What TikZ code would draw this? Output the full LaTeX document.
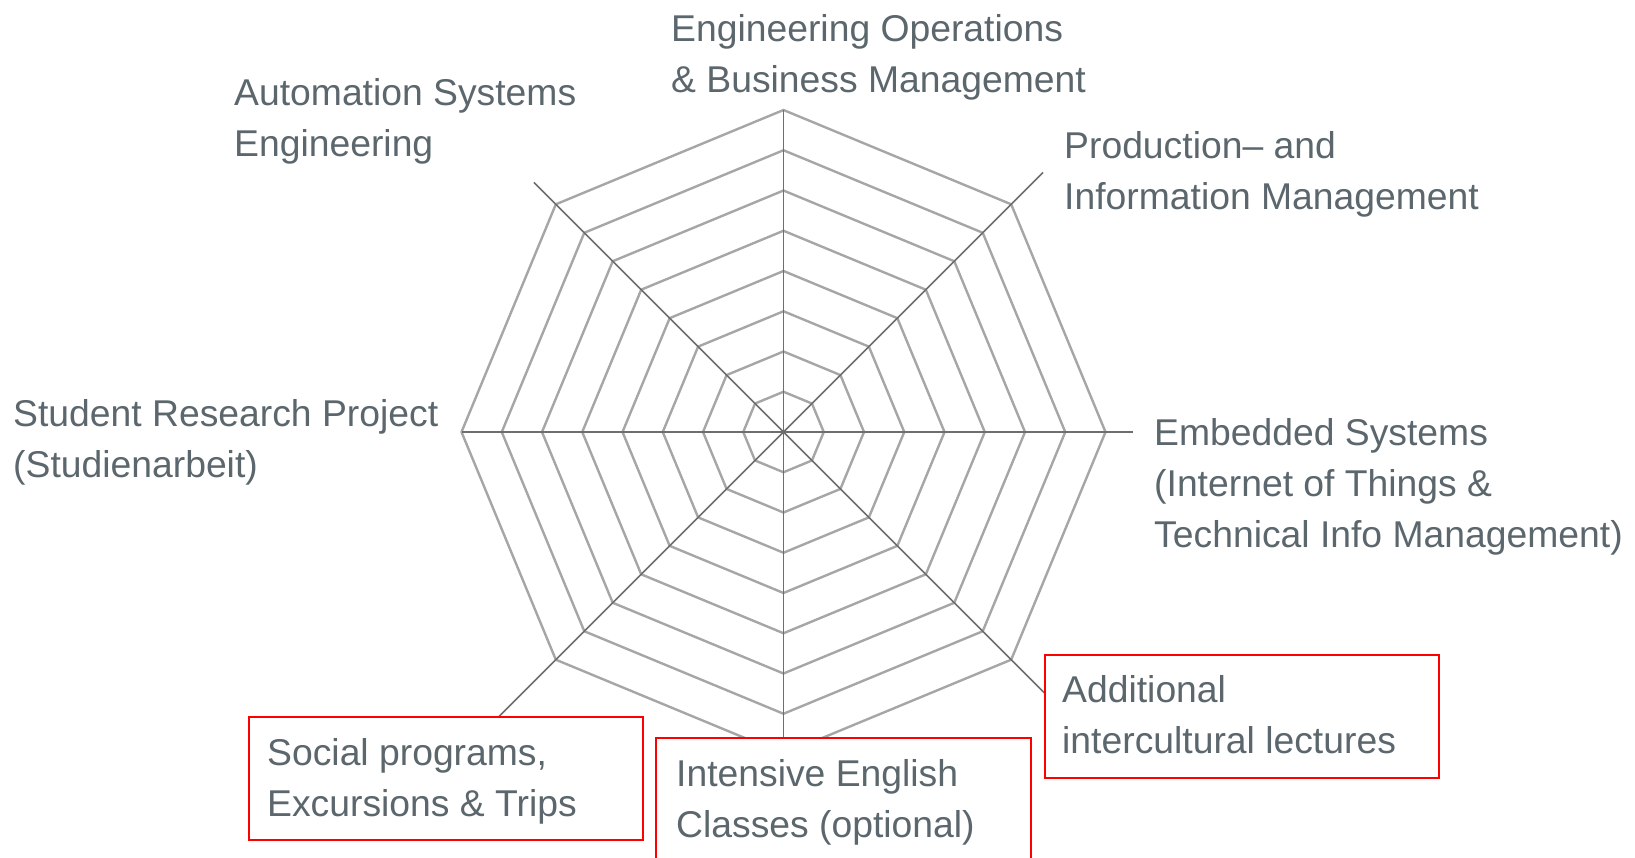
\documentclass[tikz,border=0pt]{standalone}
\usepackage{fontspec}
\setmainfont{Liberation Sans}
\usetikzlibrary{calc}
\definecolor{txtgray}{HTML}{5B676D}
\definecolor{ringgray}{HTML}{A6A6A6}
\definecolor{spokegray}{HTML}{6E6E6E}
\tikzstyle{ring}=[draw=ringgray, line width=2.4pt]
\tikzstyle{spoke}=[draw=spokegray, line width=1.6pt]
\tikzstyle{lbl}=[text=txtgray, font=\fontsize{37.3}{51}\selectfont, align=left, inner sep=0pt, anchor=base west]
\tikzstyle{hilite}=[draw=red, line width=2pt, fill=white, inner sep=0pt, anchor=north west]

\begin{document}
\begin{tikzpicture}[x=1pt, y=-1pt]
    \useasboundingbox (0,0) rectangle (1635,857);
    \clip (0,0) rectangle (1635,857);
    \coordinate (c) at (783.5,432);
    \foreach \k in {1,...,8}
        \draw [ring] ($(c)+(0:\k*40.25)$) \foreach \a in {45,90,...,315} {-- ($(c)+(\a:\k*40.25)$)} -- cycle;
    \foreach \a/\r in {0/349, 45/400, 90/322, 135/420, 180/322, 225/353, 270/322, 315/367}
        \draw [spoke] (c) -- ($(c)+(\a:\r)$);
    \node (socbox) [hilite, minimum width=394, minimum height=123] at (248,716)    {};
    \node (engbox) [hilite, minimum width=375, minimum height=150] at (655,737)    {};
    \node (addbox) [hilite, minimum width=394, minimum height=123] at (1043.5,654) {};
    \node (eob)  [lbl] at (671,92)    {Engineering Operations\\\& Business Management};
    \node (ase)  [lbl] at (234,156.5) {Automation Systems\\Engineering};
    \node (pim)  [lbl] at (1064,209.5) {Production-- and\\Information Management};
    \node (srp)  [lbl] at (13,477)    {Student Research Project\\(Studienarbeit)};
    \node (emb)  [lbl] at (1154,547)  {Embedded Systems\\(Internet of Things \&\\Technical Info Management)};
    \node (soc)  [lbl] at (267,816)   {Social programs,\\Excursions \& Trips};
    \node (ieng) [lbl] at (676,837.5) {Intensive English\\Classes (optional)};
    \node (add)  [lbl] at (1062,753)  {Additional\\intercultural lectures};
\end{tikzpicture}
\end{document}
